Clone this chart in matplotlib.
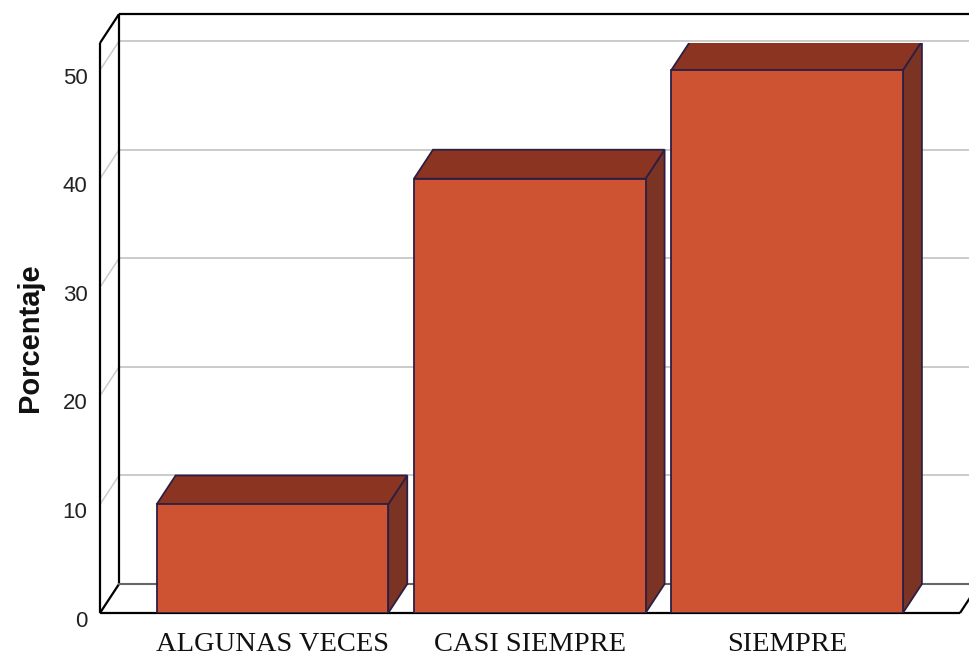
import matplotlib.pyplot as plt
from matplotlib.patches import Polygon, Rectangle
from matplotlib.transforms import ScaledTranslation

categorias = ['ALGUNAS VECES', 'CASI SIEMPRE', 'SIEMPRE']
porcentajes = [10, 40, 50]
marcas_y = [0, 10, 20, 30, 40, 50]

frente = '#CD5333'
arriba = '#8A3421'
lado = '#7B3424'
borde = '#2D1E44'
rejilla = '#CBCBCB'

# caja en perspectiva: desplazamiento de la pared del fondo (datos)
dx, dy = 0.074, 2.67
x0, x1 = -0.670, 2.672
ytop = 52.5
ancho = 0.90

fig = plt.figure(figsize=(9.69, 6.63), dpi=100)
ax = fig.add_axes([100 / 969, 50 / 663, 860 / 969, 570 / 663])
ax.set_xlim(x0, x1)
ax.set_ylim(0, ytop)
for s in ax.spines.values():
    s.set_visible(False)
ax.patch.set_visible(False)

# rejilla: pared izquierda (diagonal) y pared del fondo
for v in marcas_y:
    ax.plot([x0, x0 + dx], [v, v + dy], color=rejilla, lw=1.1, clip_on=False, zorder=1)
    ax.plot([x0 + dx, x1 + dx + 0.2], [v + dy, v + dy], color=rejilla, lw=1.4,
            clip_on=False, zorder=1)

# marco de la caja
k = dict(color='black', lw=1.6, clip_on=False, zorder=2, solid_capstyle='butt')
ax.plot([x0, x0], [0, ytop], **k)
ax.plot([x0 + dx, x0 + dx], [dy, ytop + dy], **k)
ax.plot([x0, x0 + dx], [ytop, ytop + dy], **k)
ax.plot([x0 + dx, x1 + dx + 0.2], [ytop + dy, ytop + dy], **k)
ax.plot([x0, x1], [0, 0], **k)
ax.plot([x0, x0 + dx], [0, dy], **k)
ax.plot([x1, x1 + dx], [0, dy], **k)
ax.plot([x0 + dx, x1 + dx + 0.2], [dy, dy], color='#666666', lw=1.5, clip_on=False, zorder=2)

# barras 3D
for i, v in enumerate(porcentajes):
    a, b = i - ancho / 2, i + ancho / 2
    ax.add_patch(Polygon([(b, 0), (b + dx, dy), (b + dx, v + dy), (b, v)],
                         facecolor=lado, edgecolor=borde, lw=1.3, zorder=3))
    ax.add_patch(Polygon([(a, v), (b, v), (b + dx, v + dy), (a + dx, v + dy)],
                         facecolor=arriba, edgecolor=borde, lw=1.3, zorder=3))
    ax.add_patch(Rectangle((a, 0), ancho, v, facecolor=frente, edgecolor=borde,
                           lw=1.3, zorder=4))

ax.set_yticks(marcas_y)
ax.set_yticklabels([str(m) for m in marcas_y],
                   family=['Liberation Sans Narrow', 'Liberation Sans'],
                   fontsize=16, color='#222222')
ax.tick_params(axis='y', length=0, pad=9)
for lbl in ax.get_yticklabels():
    lbl.set_transform(lbl.get_transform() + ScaledTranslation(0, -4 / 72, fig.dpi_scale_trans))

ax.set_xticks(range(len(categorias)))
ax.set_xticklabels(categorias, family='Liberation Serif', fontsize=20.5, color='#111111')
ax.tick_params(axis='x', length=0, pad=14)

fig.text(30 / 969, 1 - 338 / 663, 'Porcentaje', rotation=90, ha='center', va='center',
         family='Liberation Sans', fontweight='bold', fontsize=21, color='#111111')

fig.savefig('out.png', dpi=100, facecolor='white')
